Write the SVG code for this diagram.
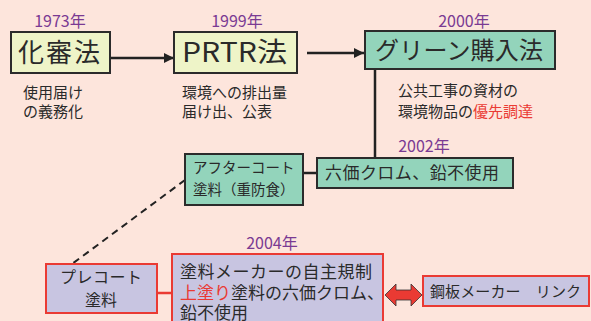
<svg xmlns="http://www.w3.org/2000/svg" width="591" height="321" viewBox="0 0 591 321">
<style>
text{font-family:"Noto Sans CJK JP","Noto Sans",sans-serif;fill:#2a2a2a}
.yr{font-size:16px;fill:#7a3a93;text-anchor:middle}
.ttl{font-size:26px}
.sm{font-size:15px}
.bx{stroke:#2b2b2b;stroke-width:2}
.yel{fill:#eef4c8}
.grn{fill:#93d4bb}
.lav{fill:#c8c5e1;stroke:#ea3a33;stroke-width:2}
.ln{stroke:#222;stroke-width:2.5;fill:none}
</style>
<defs>
<marker id="ah" viewBox="0 0 10 10" refX="10" refY="5" markerWidth="4.4" markerHeight="4" orient="auto" markerUnits="strokeWidth"><path d="M0,0 L10,5 L0,10 z" fill="#222"/></marker>
</defs>
<rect width="591" height="321" fill="#fde5dc"/>
<g id="connectors">
<line class="ln" x1="111" y1="58" x2="174" y2="58" marker-end="url(#ah)"/>
<line class="ln" x1="307" y1="53" x2="364" y2="53" marker-end="url(#ah)"/>
<line class="ln" x1="375" y1="69" x2="375" y2="158"/>
<line class="ln" x1="303" y1="173" x2="317" y2="173"/>
<line x1="185" y1="180" x2="72" y2="264" stroke="#222" stroke-width="2" stroke-dasharray="7,5"/>
<line x1="157" y1="293" x2="172" y2="293" stroke="#ea3a33" stroke-width="2.5"/>
<path d="M385,295 L396,284 L396,290 L411,290 L411,284 L422,295 L411,306 L411,300 L396,300 L396,306 Z" fill="#ea3a33" stroke="#333" stroke-width="0.8"/>
</g>
<g id="y1973"><text class="yr" x="60" y="27">1973年</text></g>
<g id="n-kashinho"><rect class="bx yel" x="11" y="32" width="99" height="41"/><text class="ttl" x="18" y="62" textLength="82">化審法</text></g>
<g id="t-kashinho"><text class="sm" x="23" y="98">使用届け</text><text class="sm" x="23" y="117">の義務化</text></g>
<g id="y1999"><text class="yr" x="237" y="27">1999年</text></g>
<g id="n-prtr"><rect class="bx yel" x="174" y="32" width="123" height="41"/><text class="ttl" x="182" y="62" style="font-size:27px" textLength="105" lengthAdjust="spacingAndGlyphs">PRTR法</text></g>
<g id="t-prtr"><text class="sm" x="182" y="98">環境への排出量</text><text class="sm" x="182" y="117">届け出、公表</text></g>
<g id="y2000"><text class="yr" x="464" y="27">2000年</text></g>
<g id="n-green"><rect class="bx grn" x="365" y="31" width="190" height="38"/><text x="375" y="59" style="font-size:24px" textLength="168">グリーン購入法</text></g>
<g id="t-green"><text class="sm" x="398" y="96">公共工事の資材の</text><text class="sm" x="398" y="117">環境物品の<tspan fill="#ea3a33">優先調達</tspan></text></g>
<g id="y2002"><text class="yr" x="424" y="152">2002年</text></g>
<g id="n-after"><rect class="bx grn" x="185" y="154" width="118" height="51"/><text x="193" y="173" style="font-size:14.5px">アフターコート</text><text x="193" y="195" style="font-size:14.5px">塗料（重防食）</text></g>
<g id="n-cr"><rect class="bx grn" x="317" y="158" width="196" height="30"/><text x="325" y="179" style="font-size:17px" textLength="174">六価クロム、鉛不使用</text></g>
<g id="y2004"><text class="yr" x="272" y="249">2004年</text></g>
<g id="n-pre"><rect class="lav" x="46" y="264" width="111" height="49"/><text x="101" y="283" style="font-size:16px;text-anchor:middle" textLength="82">プレコート</text><text x="101" y="306" style="font-size:16px;text-anchor:middle">塗料</text></g>
<g id="n-maker"><rect class="lav" x="172" y="254" width="211" height="75"/><text x="180" y="278" style="font-size:17px" textLength="192">塗料メーカーの自主規制</text><text x="180" y="299" style="font-size:17px"><tspan fill="#ea3a33">上塗り</tspan>塗料の六価クロム、</text><text x="180" y="319" style="font-size:17px">鉛不使用</text></g>
<g id="n-steel"><rect class="lav" x="423" y="276" width="166" height="30"/><text x="430" y="297" style="font-size:15px" textLength="151">鋼板メーカー　リンク</text></g>
</svg>
